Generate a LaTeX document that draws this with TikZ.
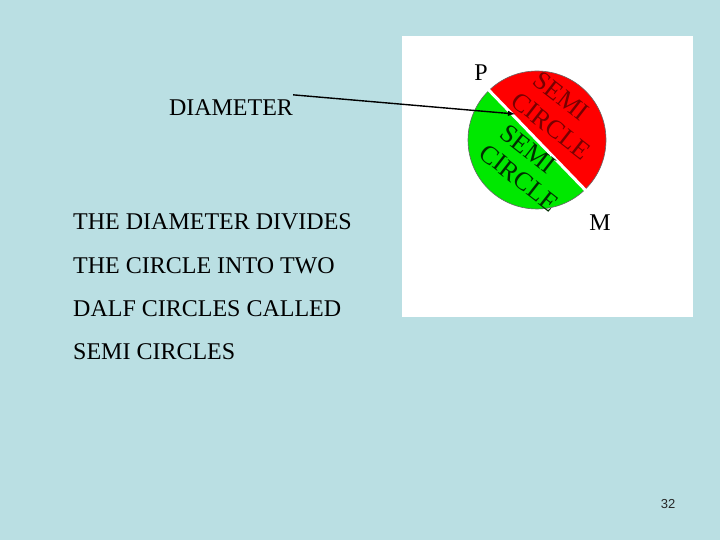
\documentclass[tikz,border=0pt]{standalone}
\usepackage{fontspec}
\setmainfont{Liberation Serif}
\setsansfont{Liberation Sans}
\definecolor{slidebg}{RGB}{186,223,227}
\definecolor{halfred}{RGB}{255,0,0}
\definecolor{halfgreen}{RGB}{0,232,0}
\definecolor{redink}{RGB}{120,0,0}
\definecolor{greenink}{RGB}{0,45,0}
\begin{document}
\begin{tikzpicture}[x=1pt,y=1pt,every node/.style={font=\fontsize{24}{24}\selectfont,inner sep=0pt},
  halftext/.style={font=\fontsize{26}{26}\selectfont,rotate=-38}]
\fill[slidebg] (0,0) rectangle (720,540);
\fill[white] (402,223) rectangle (693,504);
\coordinate (c) at (537,400);
\fill[halfred] (c) ++(-46:69) arc[start angle=-46,end angle=134,radius=69] -- cycle;
\fill[halfgreen] (c) ++(134:69) arc[start angle=134,end angle=314,radius=69] -- cycle;
\draw[black!60,line width=0.6pt] (c) circle[radius=69];
\path (c) ++(134:70) coordinate (dP) (c) ++(-46:70) coordinate (dM);
\draw[white,line width=3pt] (dP) -- (dM);
\node[halftext,text=redink] (semiA) at (561,444) {SEMI};
\node[halftext,text=redink] (circA) at (551,414) {CIRCLE};
\node[halftext,text=greenink] (semiB) at (528,391) {SEMI};
\node[halftext,text=greenink] (circB) at (519,362) {CIRCLE};
\node (p) at (481,467) {P};
\node (m) at (600,317) {M};
\node (dia) at (231,432) {DIAMETER};
\node[anchor=west] (line1) at (73,318) {THE DIAMETER DIVIDES};
\node[anchor=west] (line2) at (73,274) {THE CIRCLE INTO TWO};
\node[anchor=west] (line3) at (73,231) {DALF CIRCLES CALLED};
\node[anchor=west] (line4) at (73,188) {SEMI CIRCLES};
\node[font=\sffamily\fontsize{13}{13}\selectfont,text=black!85] (pg) at (668,36) {32};
\coordinate (tip) at (515,426);
\draw[->,>=latex,line width=1.4pt] ([yshift=5pt]dia.north east) -- (tip);
\end{tikzpicture}
\end{document}
